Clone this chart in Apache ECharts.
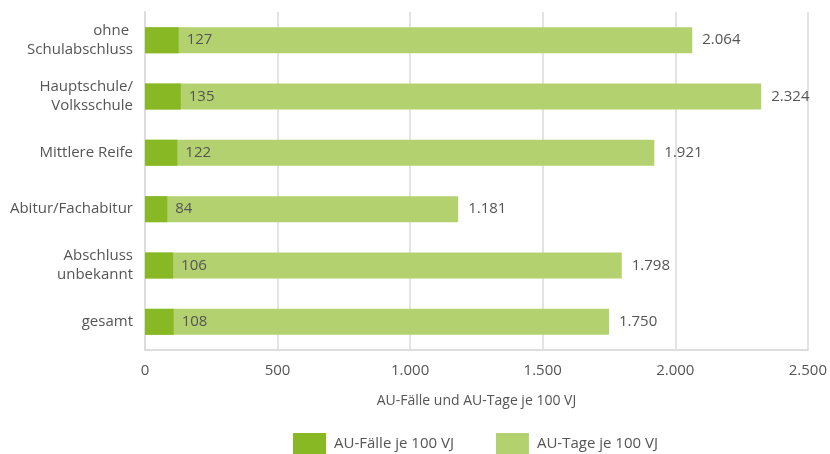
<!DOCTYPE html>
<html>
<head>
<meta charset="utf-8">
<script src="https://cdn.jsdelivr.net/npm/echarts@6/dist/echarts.min.js"></script>
<style>
html, body { margin: 0; padding: 0; background: #fff; }
#chart { width: 830px; height: 454px; }
</style>
</head>
<body>
<div id="chart"></div>
<script>
var categories = ['ohne \nSchulabschluss', 'Hauptschule/\nVolksschule', 'Mittlere Reife', 'Abitur/Fachabitur', 'Abschluss\nunbekannt', 'gesamt'];
var auFaelle = [127, 135, 122, 84, 106, 108];
var auTage = [2064, 2324, 1921, 1181, 1798, 1750];

function fmt(v) {
    return String(v).replace(/\B(?=(\d{3})+(?!\d))/g, '.');
}

var myChart = echarts.init(document.getElementById('chart'));
var textColor = '#555';
var option = {
    textStyle: { fontFamily: 'Open Sans' },
    color: ['#88b925', '#b3d16f'],
    animation: false,
    grid: {
        left: 145,
        right: 22,
        top: 12,
        bottom: 104
    },
    legend: {
        bottom: -1,
        left: 293,
        padding: 0,
        itemWidth: 33,
        itemHeight: 22,
        itemGap: 42,
        icon: 'rect',
        textStyle: { color: textColor, fontSize: 15, padding: [0, 0, 0, 3] },
        data: ['AU-Fälle je 100 VJ', 'AU-Tage je 100 VJ']
    },
    xAxis: {
        type: 'value',
        min: 0,
        max: 2500,
        interval: 500,
        name: 'AU-Fälle und AU-Tage je 100 VJ',
        nameLocation: 'middle',
        nameGap: 44,
        nameTextStyle: { color: textColor, fontSize: 14 },
        axisLabel: {
            color: textColor,
            fontSize: 15,
            margin: 13,
            formatter: function (v) { return fmt(v); }
        },
        axisLine: { show: true, lineStyle: { color: '#ddd', width: 2 } },
        axisTick: { show: false },
        splitLine: { lineStyle: { color: '#e3e3e3', width: 2 } }
    },
    yAxis: {
        type: 'category',
        inverse: true,
        data: categories,
        axisLabel: { color: textColor, fontSize: 15, margin: 12, lineHeight: 19, align: 'right' },
        axisLine: { show: true, lineStyle: { color: '#ddd', width: 2 } },
        axisTick: { show: false }
    },
    series: [
        {
            name: 'AU-Fälle je 100 VJ',
            type: 'bar',
            data: auFaelle,
            barWidth: 26,
            barGap: '-100%',
            z: 3,
            label: {
                show: true,
                position: 'right',
                distance: 8,
                color: textColor,
                fontSize: 15,
                formatter: function (p) { return fmt(p.value); }
            }
        },
        {
            name: 'AU-Tage je 100 VJ',
            type: 'bar',
            data: auTage,
            barWidth: 26,
            z: 2,
            label: {
                show: true,
                position: 'right',
                distance: 10,
                color: textColor,
                fontSize: 15,
                formatter: function (p) { return fmt(p.value); }
            }
        }
    ]
};
myChart.setOption(option);
</script>
</body>
</html>
